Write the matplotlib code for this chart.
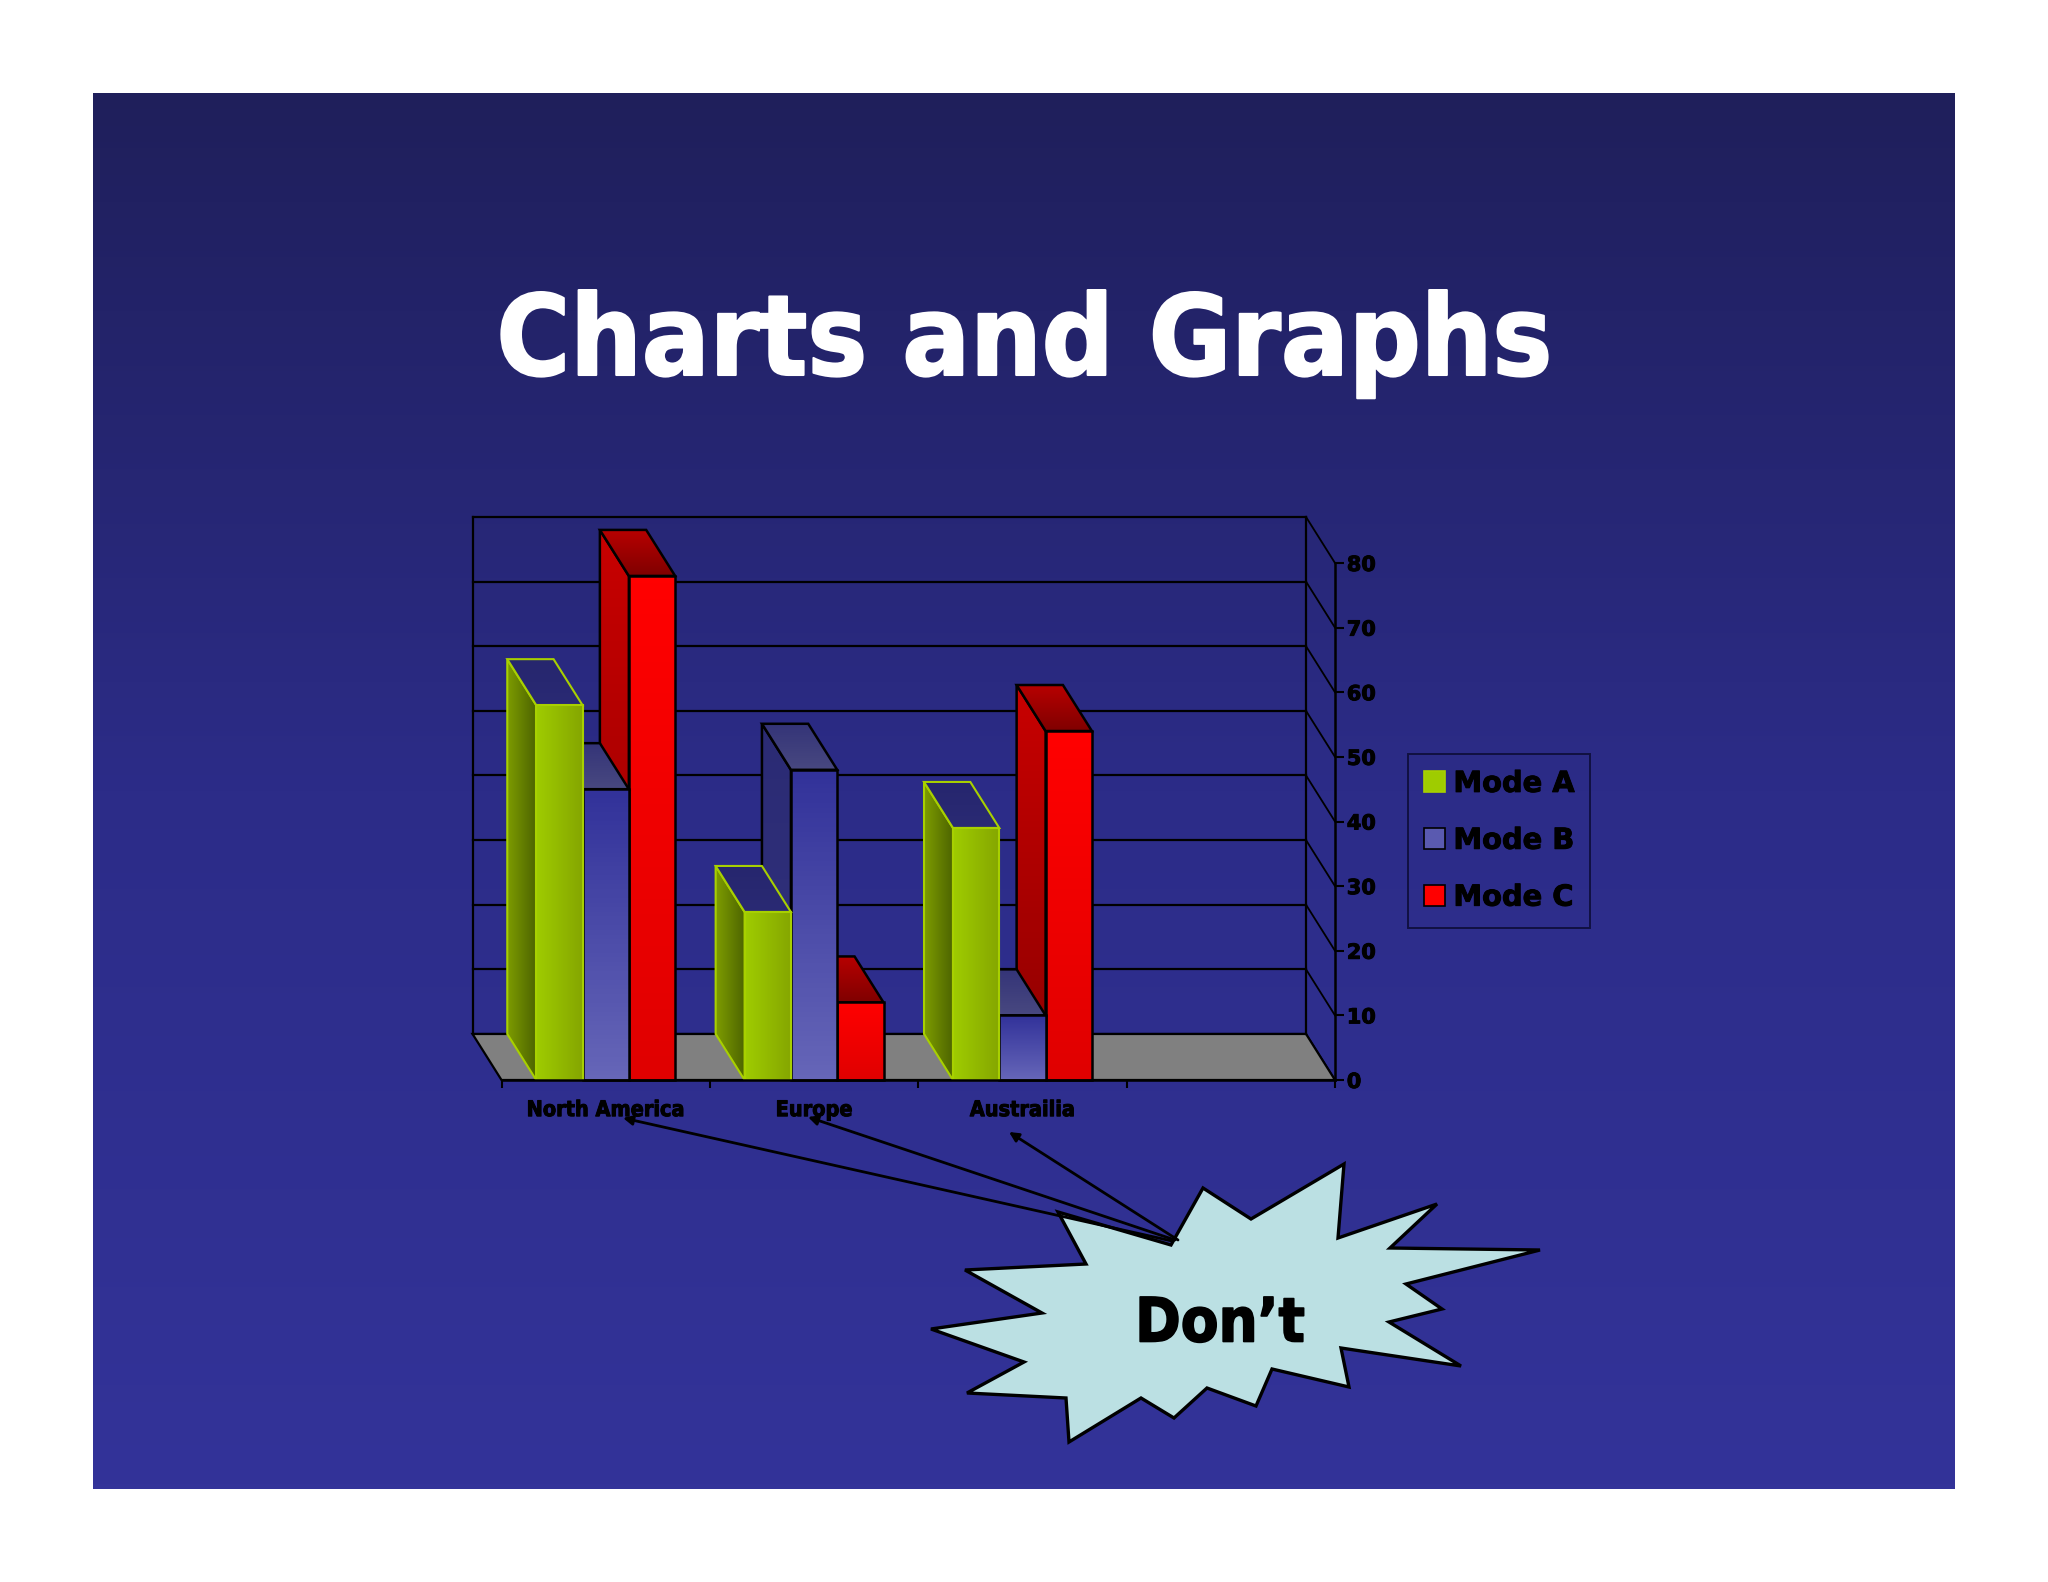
#!/usr/bin/env python
"""Slide with a fake 3D clustered column chart and a "Don't" burst callout."""
import numpy as np
import matplotlib
matplotlib.use('Agg')
import matplotlib.pyplot as plt
import matplotlib.patheffects as pe
from matplotlib.colors import LinearSegmentedColormap
from matplotlib.patches import Patch, Polygon

# Chart data
categories = ['North America', 'Europe', 'Austrailia']
series_names = ['Mode A', 'Mode B', 'Mode C']
mode_a = [58, 26, 39]
mode_b = [45, 48, 10]
mode_c = [78, 12, 54]
y_ticks = [0, 10, 20, 30, 40, 50, 60, 70, 80]

# Callout outline and arrows, in image pixels
burst_x = [1058, 1171, 1203, 1251, 1344, 1338, 1437, 1390, 1540, 1406, 1442, 1389, 1461, 1341,
           1349, 1272, 1256, 1207, 1174, 1141, 1069, 1066, 967, 1024, 931, 1042, 965, 1086]
burst_y = [1212, 1245, 1188, 1219, 1164, 1238, 1204, 1248, 1250, 1284, 1309, 1322, 1366, 1348,
           1387, 1369, 1406, 1388, 1418, 1398, 1442, 1398, 1393, 1362, 1329, 1313, 1270, 1264]
arrow_tails = [(1172, 1241), (1175, 1240), (1178, 1240)]
arrow_tips = [(623, 1118), (808, 1117), (1009, 1132)]

W, H = 2048, 1582
# Front plane of the chart in pixels
LEFT, RIGHT, BASE, TOP = 501.5, 1335, 1080, 563
DEPTH_X = 0.139   # category units
DEPTH_Y = 7.12    # value units
BAR_W = 1 / 4.5
GROUP_START = 1 / 6

# front, side and top gradients: (start colour, end colour, direction)
styles = {
    'Mode A': dict(front=('#9fcc00', '#85a600', 'h'), side=('#7d9c00', '#4e6500', 'h'),
                   top=('#26266e', '#2a2a74', 'v'), edge='#a8d000', lw=1.5),
    'Mode B': dict(front=('#32329a', '#6666b8', 'v'), side=('#2b2b74', '#32327e', 'v'),
                   top=('#343478', '#484880', 'v'), edge='black', lw=1.8),
    'Mode C': dict(front=('#ff0000', '#e00000', 'v'), side=('#c80000', '#8e0000', 'v'),
                   top=('#b80000', '#800000', 'v'), edge='black', lw=1.8),
}

TITLE_FONT = dict(family='DejaVu Sans', stretch='condensed', weight='bold')

fig = plt.figure(figsize=(W / 100, H / 100), dpi=100, facecolor='white')

# Slide background
page = fig.add_axes([0, 0, 1, 1], zorder=0)
page.set_xlim(0, W)
page.set_ylim(H, 0)
page.axis('off')
page.imshow(np.linspace(0, 1, 256).reshape(-1, 1), extent=(93, 1955, 1489, 93), aspect='auto',
            cmap=LinearSegmentedColormap.from_list('slide', ['#1f1f5b', '#2c2c88', '#333399']))
page.set_xlim(0, W)
page.set_ylim(H, 0)
page.text(1024, 344, 'Charts and Graphs', color='white', fontsize=80.5, ha='center', va='center',
          path_effects=[pe.withStroke(linewidth=1.5, foreground='white')], **TITLE_FONT)

# Chart axes, spanning the front plane
ax = fig.add_axes([LEFT / W, 1 - BASE / H, (RIGHT - LEFT) / W, (BASE - TOP) / H], zorder=1)
ax.patch.set_visible(False)
ax.set_xlim(0, 4)
ax.set_ylim(0, 80)


def face(xs, ys, colors, z, edge, lw):
    """One gradient filled polygon of a 3D bar."""
    start, end, direction = colors
    cmap = LinearSegmentedColormap.from_list('face', [start, end])
    grad = np.linspace(0, 1, 64)
    # image rows run bottom to top, so vertical gradients are flipped
    grad = grad.reshape(1, -1) if direction == 'h' else grad[::-1].reshape(-1, 1)
    poly = Polygon(np.column_stack([xs, ys]), closed=True, transform=ax.transData)
    im = ax.imshow(grad, extent=(min(xs), max(xs), min(ys), max(ys)), origin='lower',
                   aspect='auto', cmap=cmap, zorder=z)
    im.set_clip_path(poly)
    im.set_clip_box(fig.bbox)
    ax.add_patch(Polygon(np.column_stack([xs, ys]), closed=True, fill=False, edgecolor=edge,
                         linewidth=lw, zorder=z + 0.1, clip_on=False, joinstyle='miter'))


# Back wall, side wall and floor
for v in y_ticks:
    ax.plot([-DEPTH_X, 4 - DEPTH_X], [v + DEPTH_Y, v + DEPTH_Y], color='black', lw=1.6,
            zorder=1.5, clip_on=False)
    ax.plot([4 - DEPTH_X, 4], [v + DEPTH_Y, v], color='black', lw=1.3, zorder=1.5, clip_on=False)
ax.plot([-DEPTH_X, -DEPTH_X], [DEPTH_Y, 80 + DEPTH_Y], color='black', lw=1.6, clip_on=False)
ax.plot([4 - DEPTH_X, 4 - DEPTH_X], [DEPTH_Y, 80 + DEPTH_Y], color='black', lw=1.6, clip_on=False)
ax.add_patch(Polygon([(0, 0), (4, 0), (4 - DEPTH_X, DEPTH_Y), (-DEPTH_X, DEPTH_Y)], closed=True,
                     facecolor='#808080', edgecolor='black', linewidth=1.6, zorder=1.6,
                     clip_on=False))

# Bars, painted from right to left so nearer faces cover farther ones
z = 2
all_values = [mode_a, mode_b, mode_c]
for c in reversed(range(len(categories))):
    for s in reversed(range(len(series_names))):
        v = all_values[s][c]
        st = styles[series_names[s]]
        x0 = c + GROUP_START + s * BAR_W
        x1 = x0 + BAR_W
        # left side
        face([x0, x0, x0 - DEPTH_X, x0 - DEPTH_X], [0, v, v + DEPTH_Y, DEPTH_Y],
             st['side'], z, st['edge'], st['lw'])
        # top
        face([x0, x1, x1 - DEPTH_X, x0 - DEPTH_X], [v, v, v + DEPTH_Y, v + DEPTH_Y],
             st['top'], z + 0.2, st['edge'], st['lw'])
        # front
        face([x0, x1, x1, x0], [0, 0, v, v], st['front'], z + 0.4, st['edge'], st['lw'])
        z += 1

ax.set_xlim(0, 4)
ax.set_ylim(0, 80)

# Axes, ticks and labels
thick_black = [pe.withStroke(linewidth=0.7, foreground='black')]
for side in ['left', 'top']:
    ax.spines[side].set_visible(False)
for side in ['right', 'bottom']:
    ax.spines[side].set_linewidth(1.8)
    ax.spines[side].set_zorder(100)
ax.yaxis.tick_right()
ax.set_yticks(y_ticks)
ax.set_yticklabels([str(v) for v in y_ticks], fontsize=15, fontweight='bold', color='black',
                   path_effects=thick_black)
ax.tick_params(axis='y', length=6.5, width=1.5, pad=2, color='black')
ax.set_xticks([0, 1, 2, 3, 4])
ax.set_xticklabels([])
ax.set_xticks([i + 0.5 for i in range(len(categories))], minor=True)
ax.set_xticklabels(categories, minor=True, fontsize=15.5, color='black',
                   path_effects=thick_black, **TITLE_FONT)
ax.tick_params(axis='x', which='major', length=6, width=1.5, color='black')
ax.tick_params(axis='x', which='minor', length=0, pad=14.5)

# Legend
handles = [Patch(facecolor=styles[n]['front'][0] if n != 'Mode B' else '#5a5ab0',
                 edgecolor=styles[n]['edge'], linewidth=1.2, label=n) for n in series_names]
leg = ax.legend(handles=handles, loc='upper left', bbox_to_anchor=(1408 / W, 1 - 754 / H),
                bbox_transform=fig.transFigure, frameon=True, fancybox=False, facecolor='none',
                edgecolor='#0a0a30', handlelength=0.72, handleheight=0.72,
                handletextpad=0.3, labelspacing=1.0, borderaxespad=0, borderpad=0.55,
                prop=dict(weight='bold', size=20.8))
leg.get_frame().set_linewidth(1.4)
for t in leg.get_texts():
    t.set_path_effects(thick_black)

# Callout and arrows on top of everything
top = fig.add_axes([0, 0, 1, 1], zorder=2)
top.patch.set_visible(False)
top.set_xlim(0, W)
top.set_ylim(H, 0)
top.axis('off')
top.add_patch(Polygon(np.column_stack([burst_x, burst_y]), closed=True, facecolor='#bbe0e3',
                      edgecolor='black', linewidth=2.4, joinstyle='miter'))
top.text(1220, 1325, 'Don\u2019t', color='black', fontsize=44, ha='center', va='center',
         path_effects=[pe.withStroke(linewidth=1.2, foreground='black')], **TITLE_FONT)
for tail, tip in zip(arrow_tails, arrow_tips):
    top.annotate('', xy=tip, xytext=tail,
                 arrowprops=dict(arrowstyle='-|>', color='black', lw=2, mutation_scale=14,
                                 shrinkA=0, shrinkB=0))

fig.savefig('out.png', dpi=100, facecolor='white')
